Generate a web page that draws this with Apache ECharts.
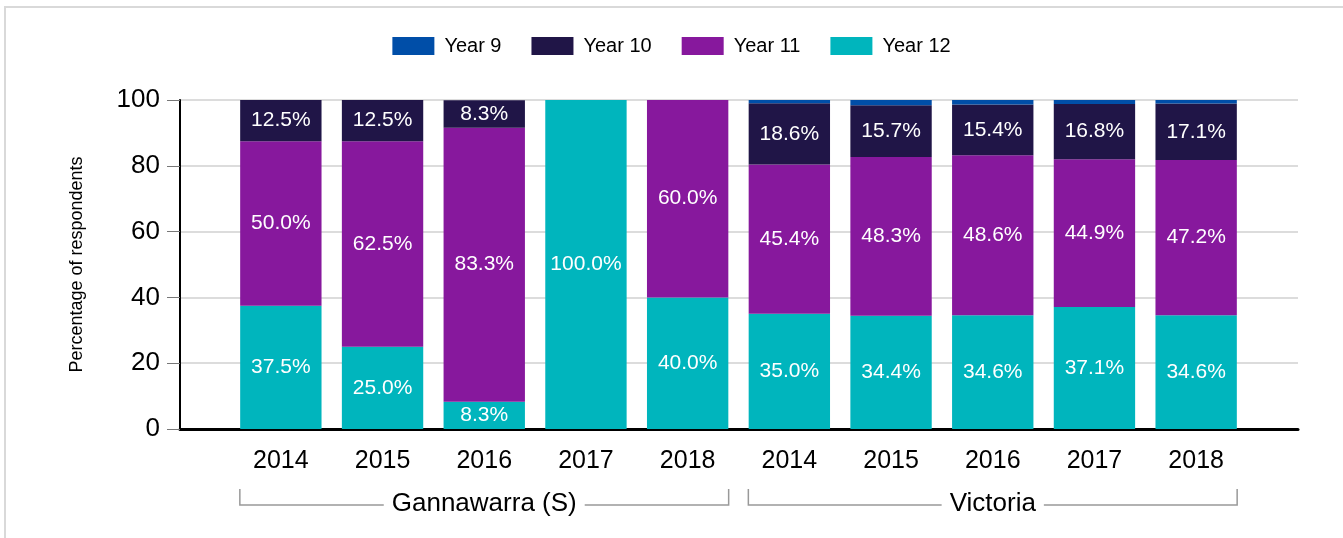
<!DOCTYPE html>
<html>
<head>
<meta charset="utf-8">
<script src="https://cdn.jsdelivr.net/npm/echarts@6/dist/echarts.min.js"></script>
<style>
  html, body { margin: 0; padding: 0; background: #fff; }
  #main { width: 1343px; height: 538px; }
</style>
</head>
<body>
<div id="main"></div>
<script>
// categories (two groups of five years)
var years = ['2014', '2015', '2016', '2017', '2018', '2014', '2015', '2016', '2017', '2018'];
var groupNames = ['Gannawarra (S)', 'Victoria'];
var groupSize = 5;

// percentage of respondents by year level
var year12 = [37.5, 25.0, 8.3, 100.0, 40.0, 35.0, 34.4, 34.6, 37.1, 34.6];
var year11 = [50.0, 62.5, 83.3, 0, 60.0, 45.4, 48.3, 48.6, 44.9, 47.2];
var year10 = [12.5, 12.5, 8.3, 0, 0, 18.6, 15.7, 15.4, 16.8, 17.1];
var year9  = [0, 0, 0, 0, 0, 1.0, 1.6, 1.4, 1.2, 1.1];

var yTicks = [0, 20, 40, 60, 80, 100];

var colors = {
  'Year 9': '#004ea8',
  'Year 10': '#201547',
  'Year 11': '#87189d',
  'Year 12': '#00b5bd'
};
var font = '"Liberation Sans", Arial, sans-serif';

var chart = echarts.init(document.getElementById('main'));

function barSeries(name, data, showLabel) {
  return {
    name: name,
    type: 'bar',
    stack: 'total',
    xAxisIndex: 1,
    yAxisIndex: 1,
    barWidth: '80%',
    data: data,
    itemStyle: { color: colors[name] },
    label: {
      show: showLabel,
      position: 'inside',
      color: '#fff',
      fontSize: 21,
      fontFamily: font,
      formatter: function (p) {
        return p.value > 0 ? p.value.toFixed(1) + '%' : '';
      }
    }
  };
}

var option = {
  animation: false,
  textStyle: { fontFamily: font },
  legend: {
    top: 31,
    left: 'center',
    icon: 'rect',
    itemWidth: 42,
    itemHeight: 18,
    itemGap: 30,
    data: ['Year 9', 'Year 10', 'Year 11', 'Year 12'],
    textStyle: { fontSize: 20, color: '#000', fontFamily: font, padding: [0, 0, 0, 5] }
  },
  grid: [
    { left: 180, right: 45, top: 100, bottom: 109 },
    { left: 230, right: 96, top: 100, bottom: 109 }
  ],
  xAxis: [
    {
      type: 'category',
      gridIndex: 0,
      data: [''],
      axisLine: { lineStyle: { color: '#000', width: 3 } },
      axisTick: { show: false },
      axisLabel: { show: false }
    },
    {
      type: 'category',
      gridIndex: 1,
      data: years,
      axisLine: { show: false },
      axisTick: { show: false },
      axisLabel: { fontSize: 25, color: '#000', margin: 20, fontFamily: font }
    }
  ],
  yAxis: [
    {
      type: 'value',
      gridIndex: 0,
      min: yTicks[0],
      max: yTicks[yTicks.length - 1],
      interval: yTicks[1] - yTicks[0],
      name: 'Percentage of respondents',
      nameLocation: 'middle',
      nameGap: 94,
      nameTextStyle: { fontSize: 18, color: '#000', fontFamily: font },
      axisLine: { show: true, lineStyle: { color: '#000', width: 2 } },
      axisTick: { show: true, length: 13, lineStyle: { color: '#777' } },
      axisLabel: { fontSize: 26, color: '#000', margin: 20, fontFamily: font },
      splitLine: { lineStyle: { color: '#dcdcdc', width: 2 } }
    },
    { type: 'value', gridIndex: 1, min: 0, max: 100, show: false }
  ],
  series: [
    barSeries('Year 12', year12, true),
    barSeries('Year 11', year11, true),
    barSeries('Year 10', year10, true),
    barSeries('Year 9', year9, false)
  ]
};

chart.setOption(option);

// frame and group brackets under the year labels
var half = 41;
var graphics = [{
  type: 'polyline',
  shape: { points: [[5, 538], [5, 7], [1343, 7]] },
  style: { stroke: '#d9d9d9', lineWidth: 2, fill: null },
  silent: true
}];
groupNames.forEach(function (g, i) {
  var x0 = chart.convertToPixel({ xAxisIndex: 1 }, i * groupSize) - half;
  var x1 = chart.convertToPixel({ xAxisIndex: 1 }, i * groupSize + groupSize - 1) + half;
  var yTop = 489, yBot = 505;
  graphics.push({
    type: 'polyline',
    shape: { points: [[x0, yTop], [x0, yBot], [x1, yBot], [x1, yTop]] },
    style: { stroke: '#999', lineWidth: 1.5, fill: null },
    silent: true
  });
  graphics.push({
    type: 'text',
    x: (x0 + x1) / 2,
    y: yBot - 1,
    style: {
      text: g,
      fontSize: 26,
      fontFamily: font,
      fill: '#000',
      align: 'center',
      verticalAlign: 'middle',
      backgroundColor: '#fff',
      padding: [0, 8]
    },
    silent: true
  });
});
chart.setOption({ graphic: graphics });
</script>
</body>
</html>
